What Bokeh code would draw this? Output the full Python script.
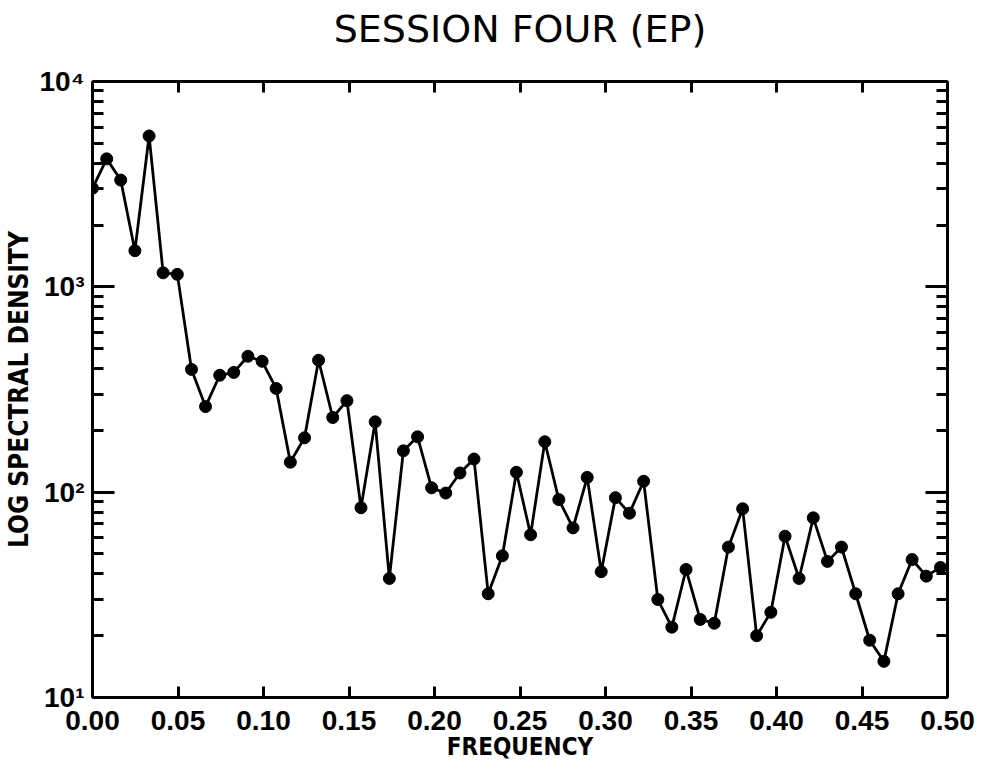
from bokeh.plotting import figure
from bokeh.models import LinearAxis, LogAxis, FixedTicker, Range1d
from bokeh.embed import file_html
from bokeh.resources import INLINE

title_text = "SESSION FOUR (EP)"
x_label = "FREQUENCY"
y_label = "LOG SPECTRAL DENSITY"

freq = [0.0, 0.0083, 0.0165, 0.0248, 0.0331, 0.0413, 0.0496, 0.0579, 0.0661, 0.0744,
        0.0826, 0.0909, 0.0992, 0.1074, 0.1157, 0.1240, 0.1322, 0.1405, 0.1488, 0.1570,
        0.1653, 0.1736, 0.1818, 0.1901, 0.1983, 0.2066, 0.2149, 0.2231, 0.2314, 0.2397,
        0.2479, 0.2562, 0.2645, 0.2727, 0.2810, 0.2893, 0.2975, 0.3058, 0.3140, 0.3223,
        0.3306, 0.3388, 0.3471, 0.3554, 0.3636, 0.3719, 0.3802, 0.3884, 0.3967, 0.4050,
        0.4132, 0.4215, 0.4298, 0.4380, 0.4463, 0.4545, 0.4628, 0.4711, 0.4793, 0.4876,
        0.4959]
density = [3020, 4200, 3310, 1500, 5430, 1170, 1150, 396, 261, 371,
           383, 459, 434, 320, 140, 184, 439, 231, 279, 84,
           220, 38, 159, 186, 105, 99, 124, 145, 32, 49,
           125, 62, 176, 92, 67, 118, 41, 94, 79, 113,
           30, 22, 42, 24, 23, 54, 83, 20, 26, 61,
           38, 75, 46, 54, 32, 19, 15, 32, 47, 39,
           43]

x_ticks = [0.0, 0.05, 0.10, 0.15, 0.20, 0.25, 0.30, 0.35, 0.40, 0.45, 0.50]
x_tick_labels = ["0.00", "0.05", "0.10", "0.15", "0.20", "0.25", "0.30", "0.35", "0.40", "0.45", "0.50"]
y_ticks = [10, 100, 1000, 10000]
y_tick_labels = ["10\u00b9", "10\u00b2", "10\u00b3", "10\u2074"]
y_minor_ticks = [20, 30, 40, 50, 60, 70, 80, 90,
                 200, 300, 400, 500, 600, 700, 800, 900,
                 2000, 3000, 4000, 5000, 6000, 7000, 8000, 9000]

LABEL_FONT = "'DejaVu Sans Condensed', sans-serif"
TICK_FONT = "'Liberation Sans', Arial, sans-serif"

p = figure(width=984, height=771,
           x_range=Range1d(0, 0.5), y_range=Range1d(10, 10000),
           y_axis_type="log",
           output_backend="svg", toolbar_location=None,
           min_border_left=86, min_border_right=37,
           min_border_top=81, min_border_bottom=74)

p.background_fill_color = "white"
p.border_fill_color = "white"
p.outline_line_color = None
p.grid.visible = False

xtick = FixedTicker(ticks=x_ticks)
ytick = FixedTicker(ticks=y_ticks, minor_ticks=y_minor_ticks)

xa = p.xaxis[0]
xa.ticker = xtick
xa.major_label_overrides = {t: l for t, l in zip(x_ticks, x_tick_labels)}
ya = p.yaxis[0]
ya.ticker = ytick
ya.major_label_overrides = {t: l for t, l in zip(y_ticks, y_tick_labels)}

# top axis mirrors the x ticks and carries the chart title as its label
top = LinearAxis(ticker=xtick, major_label_text_color=None, major_label_standoff=0,
                 axis_label=title_text,
                 axis_label_text_font="DejaVu Sans",
                 axis_label_text_font_style="normal",
                 axis_label_text_font_size="38px",
                 axis_label_text_color="black",
                 axis_label_standoff=31)
right = LogAxis(ticker=ytick, major_label_text_color=None, major_label_standoff=0)
p.add_layout(top, "above")
p.add_layout(right, "right")

for ax in [xa, top]:
    ax.major_tick_in = 11
    ax.major_tick_out = 0
    ax.minor_tick_in = 0
    ax.minor_tick_out = 0
for ax in [ya, right]:
    ax.major_tick_in = 22
    ax.major_tick_out = 0
    ax.minor_tick_in = 11
    ax.minor_tick_out = 0

for ax in [xa, ya, top, right]:
    ax.axis_line_width = 3
    ax.axis_line_color = "black"
    ax.major_tick_line_width = 3
    ax.minor_tick_line_width = 3
    ax.major_tick_line_color = "black"
    ax.minor_tick_line_color = "black"

for ax in [xa, ya]:
    ax.major_label_text_font = TICK_FONT
    ax.major_label_text_font_style = "bold"
    ax.major_label_text_font_size = "28px"
    ax.major_label_text_color = "black"
    ax.axis_label_text_font = LABEL_FONT
    ax.axis_label_text_font_style = "bold"
    ax.axis_label_text_color = "black"

xa.axis_label = x_label
xa.axis_label_text_font_size = "24px"
xa.major_label_standoff = 13
xa.axis_label_standoff = 0
ya.axis_label = y_label
ya.axis_label_text_font_size = "26px"
ya.major_label_standoff = 8
ya.axis_label_standoff = 3

p.line(freq, density, line_color="black", line_width=2.8)
p.scatter(freq, density, size=12, fill_color="black", line_color="black")

open("out.html", "w").write(file_html(p, INLINE))
